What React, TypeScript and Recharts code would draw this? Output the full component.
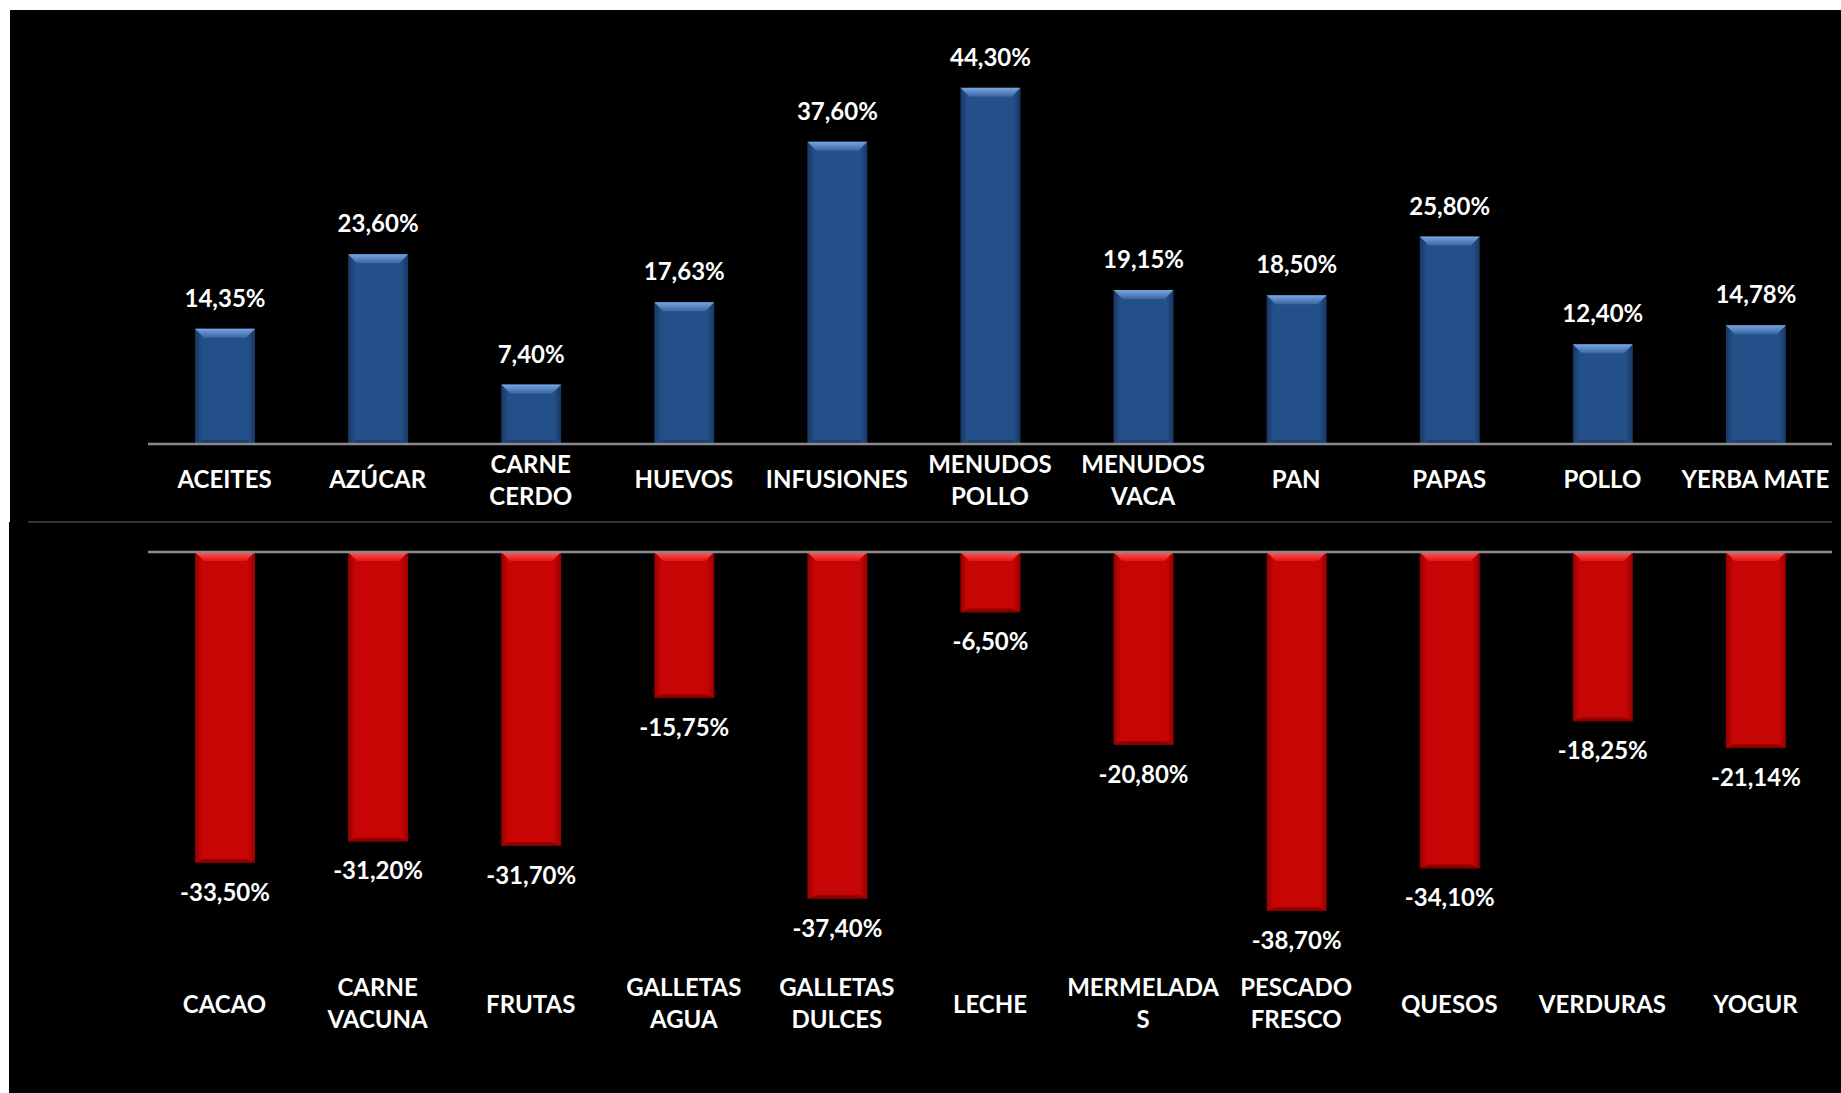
import { BarChart, Bar, XAxis, YAxis, LabelList, ReferenceLine } from 'recharts';

const upperCategories = ['ACEITES', 'AZÚCAR', 'CARNE CERDO', 'HUEVOS', 'INFUSIONES', 'MENUDOS POLLO', 'MENUDOS VACA', 'PAN', 'PAPAS', 'POLLO', 'YERBA MATE'];
const upperValues = [14.35, 23.6, 7.4, 17.63, 37.6, 44.3, 19.15, 18.5, 25.8, 12.4, 14.78];
const upperTickLines = [['ACEITES'], ['AZÚCAR'], ['CARNE', 'CERDO'], ['HUEVOS'], ['INFUSIONES'], ['MENUDOS', 'POLLO'], ['MENUDOS', 'VACA'], ['PAN'], ['PAPAS'], ['POLLO'], ['YERBA MATE']];

const lowerCategories = ['CACAO', 'CARNE VACUNA', 'FRUTAS', 'GALLETAS AGUA', 'GALLETAS DULCES', 'LECHE', 'MERMELADAS', 'PESCADO FRESCO', 'QUESOS', 'VERDURAS', 'YOGUR'];
const lowerValues = [-33.5, -31.2, -31.7, -15.75, -37.4, -6.5, -20.8, -38.7, -34.1, -18.25, -21.14];
const lowerTickLines = [['CACAO'], ['CARNE', 'VACUNA'], ['FRUTAS'], ['GALLETAS', 'AGUA'], ['GALLETAS', 'DULCES'], ['LECHE'], ['MERMELADA', 'S'], ['PESCADO', 'FRESCO'], ['QUESOS'], ['VERDURAS'], ['YOGUR']];

const upperData = upperCategories.map((name, i) => ({ name, value: upperValues[i] }));
const lowerData = lowerCategories.map((name, i) => ({ name, value: lowerValues[i] }));

const FONT = 'Lato, "Open Sans", sans-serif';
const FS = 24;
const fmt = (v: number) => v.toFixed(2).replace('.', ',') + '%';

const makeBar = (id: string) => (props: any) => {
  const { x, y, width, height } = props;
  const top = Math.min(y, y + height);
  const h = Math.abs(height);
  const b = Math.min(9, h / 2);
  return (
    <g>
      <rect x={x} y={top} width={width} height={h} fill={`url(#${id}-body)`} />
      <polygon points={`${x},${top} ${x + width},${top} ${x + width - b},${top + b} ${x + b},${top + b}`} fill={`url(#${id}-top)`} />
      <polygon points={`${x + b},${top + h - 4} ${x + width - b},${top + h - 4} ${x + width},${top + h} ${x},${top + h}`} fill={`url(#${id}-bot)`} />
    </g>
  );
};

const upperLabel = (p: any) => {
  const top = Math.min(p.y, p.y + p.height);
  return (
    <text x={p.x + p.width / 2} y={top - 22} textAnchor="middle" fill="#fff" fontFamily={FONT} fontWeight={700} fontSize={FS}>
      {fmt(p.value)}
    </text>
  );
};

const lowerLabel = (p: any) => {
  const bottom = Math.max(p.y, p.y + p.height);
  return (
    <text x={p.x + p.width / 2} y={bottom + 38} textAnchor="middle" fill="#fff" fontFamily={FONT} fontWeight={700} fontSize={FS}>
      {fmt(p.value)}
    </text>
  );
};

const makeTick = (cats: string[], lines: string[][], single: number, first: number) => (props: any) => {
  const { x, y, payload } = props;
  const ls = lines[cats.indexOf(payload.value)] || [payload.value];
  return (
    <g>
      {ls.map((l, i) => (
        <text key={i} x={x} y={y + (ls.length === 1 ? single : first + i * 32)} textAnchor="middle" fill="#fff" fontFamily={FONT} fontWeight={700} fontSize={FS}>
          {l}
        </text>
      ))}
    </g>
  );
};

function Gradients() {
  return (
    <svg width={0} height={0} style={{ position: 'absolute' }}>
      <defs>
        <linearGradient id="blue-body" x1="0" y1="0" x2="1" y2="0">
          <stop offset="0%" stopColor="#173761" />
          <stop offset="12%" stopColor="#24508a" />
          <stop offset="88%" stopColor="#24508a" />
          <stop offset="100%" stopColor="#173761" />
        </linearGradient>
        <linearGradient id="blue-top" x1="0" y1="0" x2="0" y2="1">
          <stop offset="0%" stopColor="#7aa6dc" />
          <stop offset="100%" stopColor="#3766a6" />
        </linearGradient>
        <linearGradient id="blue-bot" x1="0" y1="0" x2="0" y2="1">
          <stop offset="0%" stopColor="#1e4272" />
          <stop offset="100%" stopColor="#14305a" />
        </linearGradient>
        <linearGradient id="red-body" x1="0" y1="0" x2="1" y2="0">
          <stop offset="0%" stopColor="#950000" />
          <stop offset="12%" stopColor="#c80505" />
          <stop offset="88%" stopColor="#c80505" />
          <stop offset="100%" stopColor="#950000" />
        </linearGradient>
        <linearGradient id="red-top" x1="0" y1="0" x2="0" y2="1">
          <stop offset="0%" stopColor="#ff5a5a" />
          <stop offset="100%" stopColor="#e21616" />
        </linearGradient>
        <linearGradient id="red-bot" x1="0" y1="0" x2="0" y2="1">
          <stop offset="0%" stopColor="#a00000" />
          <stop offset="100%" stopColor="#7a0000" />
        </linearGradient>
      </defs>
    </svg>
  );
}

export default function App() {
  return (
    <div style={{ position: 'fixed', left: 0, top: 0, width: 1841, height: 1093, background: '#fff', overflow: 'hidden' }}>
      <style>{'html,body{margin:0;overflow:hidden;background:#fff}'}</style>
      <Gradients />
      <div style={{ position: 'absolute', left: 10, top: 10, width: 1860, height: 512, background: '#000' }} />
      <div style={{ position: 'absolute', left: 9, top: 522, width: 1860, height: 600, background: '#000' }} />
      <div style={{ position: 'absolute', left: 28, top: 521, width: 1804, height: 2, background: '#333' }} />

      <div style={{ position: 'absolute', left: 0, top: 0 }}>
        <BarChart width={1841} height={522} data={upperData} margin={{ top: 42, right: 9, bottom: 0, left: 148 }}>
          <YAxis hide domain={[0, 50]} />
          <XAxis dataKey="name" height={78} axisLine={{ stroke: '#8a8a8a', strokeWidth: 2.5 }} tickLine={false} tickSize={0} tickMargin={0} interval={0}
            tick={makeTick(upperCategories, upperTickLines, 44, 29)} />
          <Bar dataKey="value" barSize={60} shape={makeBar('blue')} isAnimationActive={false}>
            <LabelList dataKey="value" content={upperLabel} />
          </Bar>
        </BarChart>
      </div>

      <div style={{ position: 'absolute', left: 0, top: 522 }}>
        <BarChart width={1841} height={571} data={lowerData} margin={{ top: 30, right: 9, bottom: 0, left: 148 }}>
          <YAxis hide domain={[-40, 0]} />
          <XAxis dataKey="name" height={170} axisLine={false} tickLine={false} tickSize={0} tickMargin={0} interval={0}
            tick={makeTick(lowerCategories, lowerTickLines, 90, 73)} />
          <Bar dataKey="value" barSize={60} shape={makeBar('red')} isAnimationActive={false}>
            <LabelList dataKey="value" content={lowerLabel} />
          </Bar>
          <ReferenceLine y={0} stroke="#8a8a8a" strokeWidth={2.5} />
        </BarChart>
      </div>
    </div>
  );
}
